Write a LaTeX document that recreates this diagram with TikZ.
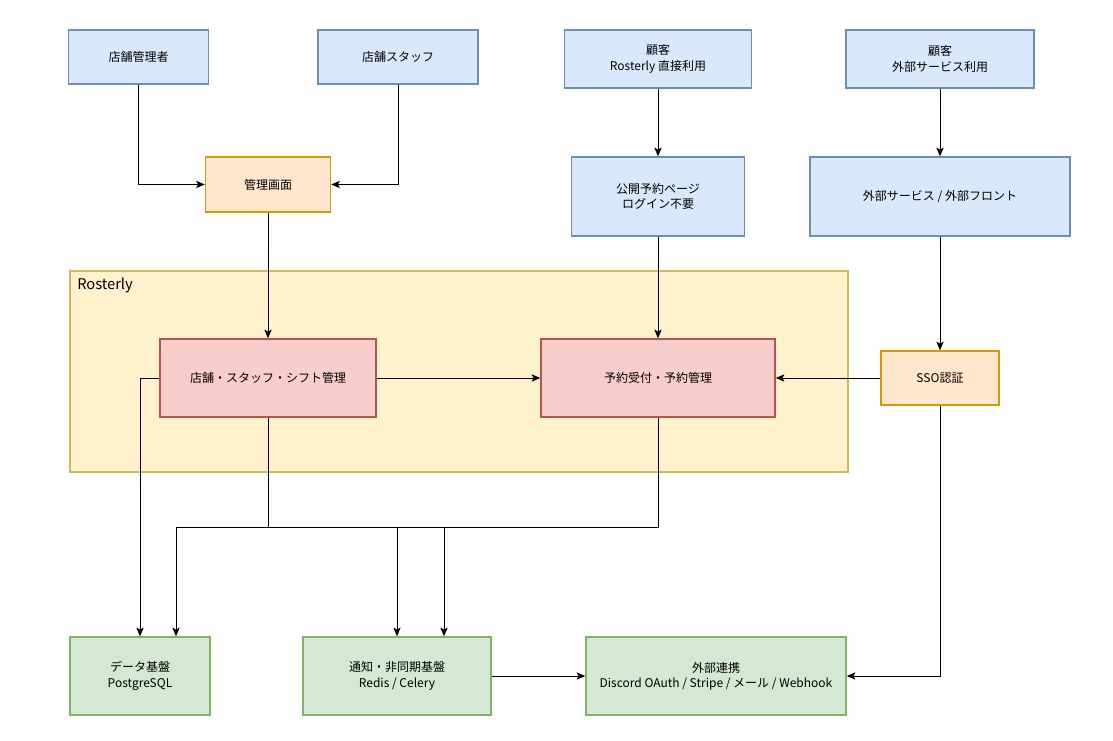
\documentclass[tikz,border=0pt]{standalone}
\usepackage{fontspec}
\setmainfont{Noto Sans CJK JP}
\usetikzlibrary{arrows.meta,positioning,calc}
\definecolor{actorfill}{HTML}{DAE8FC}
\definecolor{actorline}{HTML}{6C8EBF}
\definecolor{uifill}{HTML}{FFE6CC}
\definecolor{uiline}{HTML}{D79B00}
\definecolor{corefill}{HTML}{F8CECC}
\definecolor{coreline}{HTML}{B85450}
\definecolor{infrafill}{HTML}{D5E8D4}
\definecolor{infraline}{HTML}{82B366}
\definecolor{zonefill}{HTML}{FFF2CC}
\definecolor{zoneline}{HTML}{D6B656}
\tikzset{
  box/.style={draw, line width=1.1pt, align=center, inner sep=0pt,
    font=\fontsize{9}{11.5}\selectfont},
  actor/.style={box, fill=actorfill, draw=actorline},
  ui/.style={box, fill=uifill, draw=uiline},
  core/.style={box, fill=corefill, draw=coreline},
  infra/.style={box, fill=infrafill, draw=infraline},
  arr/.style={-{Stealth[length=6.5pt,width=5.5pt,inset=1.5pt]}, line width=0.75pt},
  wire/.style={line width=0.75pt}
}
\begin{document}
\begin{tikzpicture}[x=0.75pt,y=-0.75pt]
  \useasboundingbox (0,0) rectangle (1113,741);

  % Rosterly zone
  \draw[fill=zonefill, draw=zoneline, line width=1.1pt] (70,271) rectangle (848,472);
  \node[anchor=north west, font=\fontsize{11}{13}\selectfont, inner sep=0pt] (zonelabel) at (77,278) {Rosterly};

  % users
  \node[actor, minimum width=140*0.75pt, minimum height=54*0.75pt] (mgr) at (138.5,57) {店舗管理者};
  \node[actor, minimum width=160*0.75pt, minimum height=54*0.75pt] (staff) at (398,57) {店舗スタッフ};
  \node[actor, minimum width=187*0.75pt, minimum height=58*0.75pt] (custdirect) at (658,59) {顧客\\Rosterly 直接利用};
  \node[actor, minimum width=188*0.75pt, minimum height=58*0.75pt] (custext) at (940,59) {顧客\\外部サービス利用};

  % front ends
  \node[ui, minimum width=125*0.75pt, minimum height=55*0.75pt] (admin) at (268,184.5) {管理画面};
  \node[actor, minimum width=173*0.75pt, minimum height=79*0.75pt] (pubpage) at (658,196.5) {公開予約ページ\\ログイン不要};
  \node[actor, minimum width=260*0.75pt, minimum height=79*0.75pt] (extfront) at (940,196.5) {外部サービス / 外部フロント};

  % core
  \node[core, minimum width=216*0.75pt, minimum height=78*0.75pt] (shiftmgmt) at (268,378) {店舗・スタッフ・シフト管理};
  \node[core, minimum width=234*0.75pt, minimum height=78*0.75pt] (resv) at (658,378) {予約受付・予約管理};
  \node[ui, minimum width=118*0.75pt, minimum height=54*0.75pt] (sso) at (940,378) {SSO認証};

  % infra
  \node[infra, minimum width=140*0.75pt, minimum height=78*0.75pt] (db) at (140,676) {データ基盤\\PostgreSQL};
  \node[infra, minimum width=188*0.75pt, minimum height=78*0.75pt] (notify) at (397,676) {通知・非同期基盤\\Redis / Celery};
  \node[infra, minimum width=260*0.75pt, minimum height=78*0.75pt] (extlink) at (716,676) {外部連携\\Discord OAuth / Stripe / メール / Webhook};

  % bus points
  \coordinate (busleft) at (176,527);
  \coordinate (busmid) at (268,527);
  \coordinate (busright) at (658,527);
  \coordinate (busn1) at (397,527);
  \coordinate (busn2) at (444,527);

  % connectors
  \draw[arr] (mgr) |- (admin);
  \draw[arr] (staff) |- (admin);
  \draw[arr] (admin) -- (shiftmgmt);
  \draw[arr] (custdirect) -- (pubpage);
  \draw[arr] (pubpage) -- (resv);
  \draw[arr] (custext) -- (extfront);
  \draw[arr] (extfront) -- (sso);
  \draw[arr] (sso) -- (resv);
  \draw[arr] (shiftmgmt) -- (resv);
  \draw[arr] (shiftmgmt.west) -| (db.north);
  \draw[wire] (shiftmgmt.south) -- (busmid);
  \draw[wire] (resv.south) -- (busright) -- (busleft);
  \draw[arr] (busleft) -- (busleft |- db.north);
  \draw[arr] (busn1) -- (busn1 |- notify.north);
  \draw[arr] (busn2) -- (busn2 |- notify.north);
  \draw[arr] (notify) -- (extlink);
  \draw[arr] (sso) |- (extlink);
\end{tikzpicture}
\end{document}
